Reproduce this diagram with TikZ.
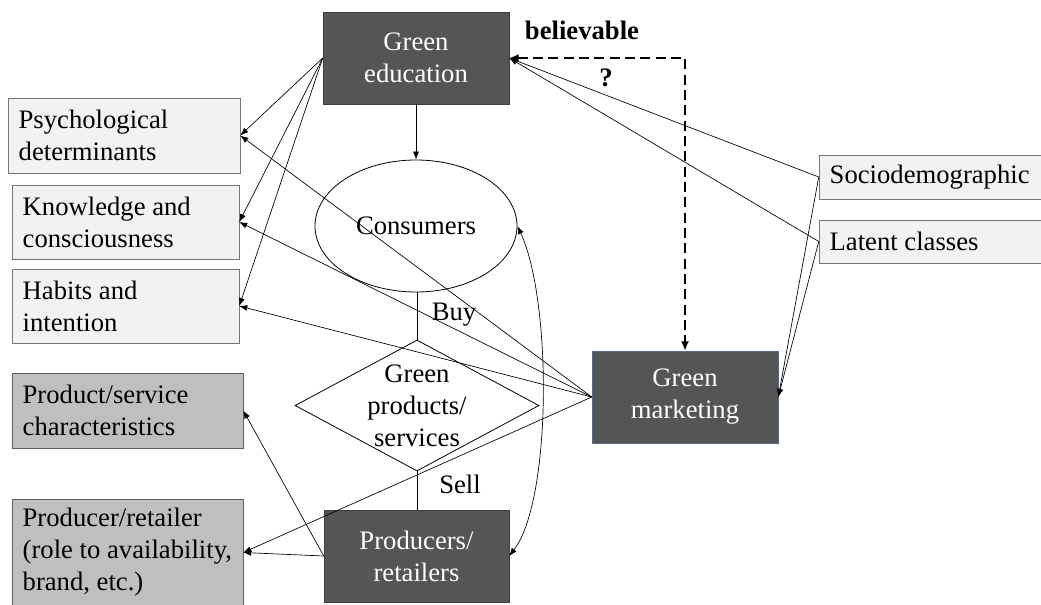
\documentclass[tikz,border=0pt]{standalone}
\usepackage{fontspec}
\setmainfont{Liberation Serif}
\usetikzlibrary{arrows.meta,shapes.geometric}

\definecolor{boxdark}{RGB}{85,85,85}
\definecolor{boxlight}{RGB}{242,242,242}
\definecolor{boxmid}{RGB}{191,191,191}
\definecolor{edgegrey}{RGB}{118,118,118}
\definecolor{edgeblue}{RGB}{86,104,132}

\begin{document}
\begin{tikzpicture}[x=0.75pt,y=0.75pt,yscale=-1,xscale=1,
  font=\fontsize{20}{24}\selectfont,
  darkbox/.style={draw=black!75, fill=boxdark, text=white, align=center, inner sep=0pt, minimum width=139.5pt, minimum height=69pt},
  lightbox/.style={draw=edgegrey, fill=boxlight, inner sep=0pt},
  midbox/.style={draw=edgegrey!80!black, fill=boxmid, inner sep=0pt},
  boxtext/.style={anchor=west, align=left, inner sep=0pt},
  arr/.style={-{Latex[length=6pt,width=4.5pt]}, line width=0.5pt},
  ]
%set diagram left start at 0, and has height of 604
\useasboundingbox (0,0) rectangle (1041,604);

%Shape: Rectangle [dark]
\node[darkbox] (edu) at (416,58) {Green\\education};
\node[darkbox, draw=edgeblue] (mk) at (685,397) {Green\\marketing};
\node[darkbox, minimum width=138.75pt] (prod) at (416.5,556) {Producers/\\retailers};

%Shape: Ellipse
\node[draw, ellipse, line width=0.6pt, inner sep=0pt, minimum width=151.5pt, minimum height=99pt] (cons) at (416,226) {Consumers};

%Shape: Diamond
\node[draw, diamond, line width=0.6pt, inner sep=0pt, minimum width=183pt, minimum height=98.25pt] (dia) at (417,405.5) {};
% Text Node
\node[align=center, inner sep=0pt] (diatext) at (dia) {Green\\products/\\services};

%Shape: Rectangle [left column]
\node[lightbox, minimum width=174pt, minimum height=56.25pt] (psych) at (124,135.5) {};
\node[lightbox, minimum width=170.25pt, minimum height=55.5pt] (know) at (125.5,222) {};
\node[lightbox, minimum width=170.25pt, minimum height=55.5pt] (habit) at (125.5,306) {};
\node[midbox, minimum width=173.25pt, minimum height=56.25pt] (prodserv) at (127.5,410.5) {};
\node[midbox, minimum width=173.25pt, minimum height=80.25pt] (prodret) at (127.5,552.5) {};

%Shape: Rectangle [right column]
\node[lightbox, minimum width=169.5pt, minimum height=33pt] (socio) at (932,177) {};
\node[lightbox, minimum width=169.5pt, minimum height=32.25pt] (latent) at (932,241.5) {};

% Text Node
\node[boxtext] (psychtext) at ([xshift=8pt]psych.west) {Psychological\\determinants};
\node[boxtext] (knowtext) at ([xshift=8pt]know.west) {Knowledge and\\consciousness};
\node[boxtext] (habittext) at ([xshift=8pt]habit.west) {Habits and\\intention};
\node[boxtext] (prodservtext) at ([xshift=8pt]prodserv.west) {Product/service\\characteristics};
\node[boxtext] (prodrettext) at ([xshift=8pt]prodret.west) {Producer/retailer\\(role to availability,\\brand, etc.)};
\node[boxtext] (sociotext) at ([xshift=8pt]socio.west) {Sociodemographic};
\node[boxtext] (latenttext) at ([xshift=8pt]latent.west) {Latent classes};

% Text Node
\node[font=\fontsize{20}{24}\selectfont\bfseries] (believe) at (582,30) {believable};
\node[font=\fontsize{20}{24}\selectfont\bfseries] (qmark) at (606,78) {?};
\node (buy) at (454,315) {Buy};
\node (sell) at (460,484) {Sell};

%Straight Lines [from green education]
\draw[arr] (edu.west) -- (psych.east);
\draw[arr] (edu.west) -- (know.east);
\draw[arr] (edu.west) -- (habit.east);
\draw[arr] (edu) -- (cons);

%Straight Lines [into green education and green marketing]
\draw[arr] (socio.west) -- (edu.east);
\draw[arr] (latent.west) -- (edu.east);
\draw[arr] (socio.west) -- (mk.east);
\draw[arr] (latent.west) -- (mk.east);

%Straight Lines [from green marketing]
\draw[arr] (mk.west) -- (psych.east);
\draw[arr] (mk.west) -- (know.east);
\draw[arr] (mk.west) -- (habit.east);
\draw[arr] (mk.west) -- (prodret.east);

%Straight Lines [from producers]
\draw[arr] (prod.west) -- (prodserv.east);
\draw[arr] (prod.west) -- (prodret.east);

%Straight Lines [buy / sell]
\draw[line width=0.5pt] (dia.north) -- (dia.north |- cons.south);
\draw[line width=0.5pt] (dia.south) -- (dia.south |- prod.north);

%Curve Lines
\draw[line width=0.5pt, {Latex[length=6pt,width=4.5pt]}-{Latex[length=6pt,width=4.5pt]}] (cons.east) .. controls (552,300) and (552,500) .. (prod.east);

%Straight Lines [dashed]
\draw[line width=1.3pt, dash pattern={on 7.5pt off 4pt}, {Latex[length=7pt,width=6pt]}-{Latex[length=7pt,width=6pt]}] (edu.east) -| (mk.north);

\end{tikzpicture}
\end{document}
